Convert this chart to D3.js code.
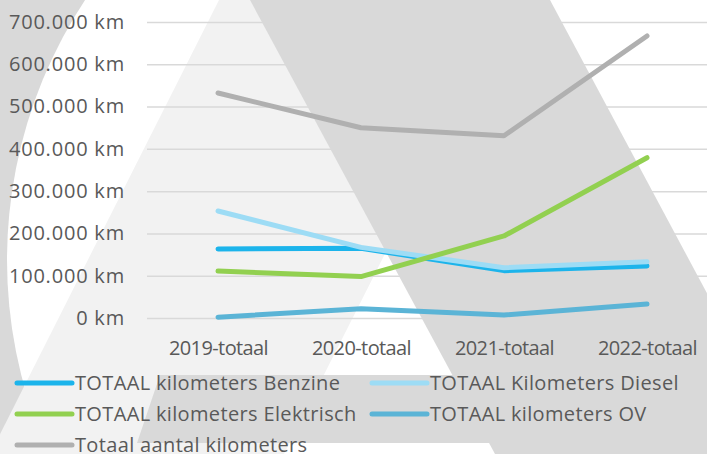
<!DOCTYPE html>
<html>
<head>
<meta charset="utf-8">
<script src="https://cdn.jsdelivr.net/npm/d3@7"></script>
<style>
  html, body { margin: 0; padding: 0; background: #fff; }
  svg { display: block; }
  text { font-family: 'Open Sans', sans-serif; fill: #595959; }
</style>
</head>
<body>
<script>
const categories = ['2019-totaal', '2020-totaal', '2021-totaal', '2022-totaal'];
const yTicks = [0, 100000, 200000, 300000, 400000, 500000, 600000, 700000];

const seriesNames = [
  'TOTAAL kilometers Benzine',
  'TOTAAL Kilometers Diesel',
  'TOTAAL kilometers Elektrisch',
  'TOTAAL kilometers OV',
  'Totaal aantal kilometers'
];
const seriesColors = ['#1cb4eb', '#9ddcf5', '#92d050', '#5bb4d6', '#b0b0b0'];

const benzine = [163000, 165000, 112000, 123000];
const diesel = [253000, 167000, 119000, 133000];
const elektrisch = [111000, 98000, 194000, 379000];
const ov = [2000, 22000, 7000, 33000];
const totaal = [532000, 450000, 431000, 667000];

const seriesValues = [benzine, diesel, elektrisch, ov, totaal];

let dim = { width: 707, height: 454 };
let svg = d3.select('body').append('svg').attr('width', dim.width).attr('height', dim.height);

// decorative background shapes (logo behind the chart)
let bg = svg.append('g');
bg.append('rect').attr('width', dim.width).attr('height', dim.height).attr('fill', '#d9d9d9');
bg.append('circle').attr('cx', 479).attr('cy', 260).attr('r', 472).attr('fill', '#ffffff');
bg.append('polygon').attr('points', '219,0 513,0 284,454 -10,454').attr('fill', '#f2f2f2');
bg.append('polygon').attr('points', '250,0 550,0 793,454 495,454').attr('fill', '#d9d9d9');
bg.append('polygon').attr('points', '160,375 707,375 707,443 137,443').attr('fill', '#d9d9d9');

// scales
let plotLeft = 147;
let scaleX = d3.scalePoint().domain(categories).range([218, 647]);
let scaleY = d3.scaleLinear().domain([0, 700000]).range([318, 22]);

let nl = d3.formatLocale({ decimal: ',', thousands: '.', grouping: [3], currency: ['€', ''] });
let fmt = nl.format(',.0f');

// y axis + gridlines
let axisY = d3.axisLeft(scaleY)
  .tickValues(yTicks)
  .tickSize(-(dim.width - plotLeft))
  .tickPadding(22)
  .tickFormat((d) => fmt(d) + ' km');

let gY = svg.append('g').attr('transform', `translate(${plotLeft}, 0)`).call(axisY);
gY.select('.domain').remove();
gY.selectAll('line').attr('stroke', '#d9d9d9').attr('stroke-width', 1.5);
gY.selectAll('text')
  .style('font-size', '20px')
  .style('letter-spacing', '0.8px')
  .style('font-family', null)
  .attr('fill', '#595959');

// x axis
let axisX = d3.axisBottom(scaleX).tickSize(0).tickPadding(23);
let gX = svg.append('g').attr('transform', 'translate(0, 318)').call(axisX);
gX.select('.domain').remove();
gX.selectAll('text')
  .style('font-size', '20px')
  .style('letter-spacing', '-0.6px')
  .style('font-family', null)
  .attr('fill', '#595959');

// lines
let line = d3.line()
  .x((d, i) => scaleX(categories[i]))
  .y((d) => scaleY(d));

svg.selectAll('path.series')
  .data(seriesValues)
  .enter()
  .append('path')
  .attr('class', 'series')
  .attr('d', (d) => line(d))
  .attr('fill', 'none')
  .attr('stroke', (d, i) => seriesColors[i])
  .attr('stroke-width', 5)
  .attr('stroke-linecap', 'round')
  .attr('stroke-linejoin', 'round');

// legend
let legendPos = [
  { x: 17, y: 383 },
  { x: 372, y: 383 },
  { x: 17, y: 414 },
  { x: 372, y: 414 },
  { x: 17, y: 445 }
];

let legend = svg.selectAll('g.legend')
  .data(seriesNames)
  .enter()
  .append('g')
  .attr('class', 'legend')
  .attr('transform', (d, i) => `translate(${legendPos[i].x}, ${legendPos[i].y})`);

legend.append('line')
  .attr('x1', 0)
  .attr('x2', 55)
  .attr('stroke', (d, i) => seriesColors[i])
  .attr('stroke-width', 5)
  .attr('stroke-linecap', 'round');

legend.append('text')
  .attr('x', 58)
  .attr('dy', '0.35em')
  .style('font-size', '20px')
  .style('letter-spacing', '0.35px')
  .text((d) => d);
</script>
</body>
</html>
